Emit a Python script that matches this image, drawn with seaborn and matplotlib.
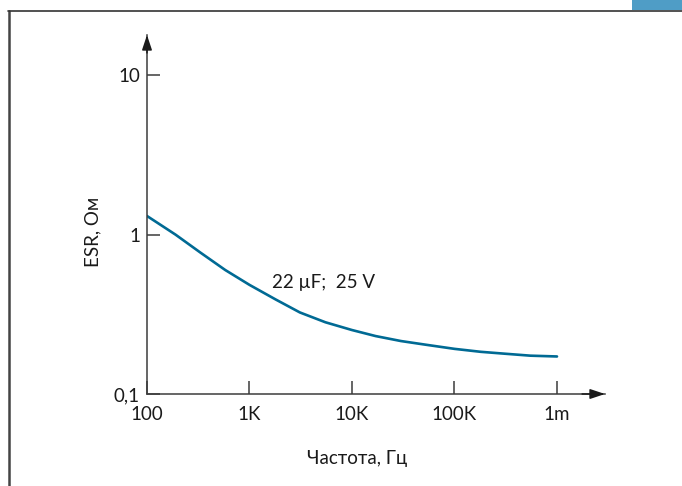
import numpy as np
import pandas as pd
import seaborn as sns
import matplotlib.pyplot as plt
from matplotlib.lines import Line2D
from matplotlib.patches import Rectangle

# Dados (ESR x frequência)
freq = [100, 190, 330, 580, 1000, 1800, 3100, 5500, 10000, 17000, 30000,
        52000, 100000, 180000, 310000, 550000, 1000000]
esr = [1.31, 1.00, 0.774, 0.600, 0.484, 0.392, 0.325, 0.282, 0.252, 0.231,
       0.215, 0.204, 0.192, 0.184, 0.179, 0.174, 0.172]
xticks = [100, 1e3, 1e4, 1e5, 1e6]
xlabels = ["100", "1K", "10K", "100K", "1m"]
yticks = [0.1, 1, 10]
ylabels = ["0,1", "1", "10"]

df = pd.DataFrame({"freq": freq, "esr": esr})

sns.set_style("white")
plt.rcParams["font.family"] = ["Lato", "DejaVu Sans"]

axis_col = "#3c3c3c"
txt_col = "#1a1a1a"
fig = plt.figure(figsize=(6.82, 4.86), dpi=100)
ax = fig.add_axes([147 / 682, 1 - 394 / 486, 458 / 682, 359 / 486])

sns.lineplot(data=df, x="freq", y="esr", ax=ax, color="#006a94", linewidth=1.9)

ax.set_xscale("log")
ax.set_yscale("log")
ax.set_xlim(100, 10 ** (6 + 48 / 102.5))
ax.set_ylim(0.1, 10 ** (1 + 40 / 158))

ax.set_xticks(xticks)
ax.set_xticklabels(xlabels)
ax.set_yticks(yticks)
ax.set_yticklabels(ylabels)
ax.minorticks_off()
ax.tick_params(axis="both", direction="in", length=9.5, width=1.1, color=axis_col,
               labelsize=13.5, labelcolor=txt_col, bottom=True, left=True)
ax.tick_params(axis="x", pad=9)
ax.tick_params(axis="y", pad=5)

for s in ["top", "right"]:
    ax.spines[s].set_visible(False)
for s in ["left", "bottom"]:
    ax.spines[s].set_color(axis_col)
    ax.spines[s].set_linewidth(1.1)

# setas nos eixos
ax.annotate("", xy=(1.0, 0), xycoords="axes fraction", xytext=(0.95, 0),
            arrowprops=dict(arrowstyle="-|>,head_length=0.9,head_width=0.3",
                            color=txt_col, lw=1.1, shrinkA=0, shrinkB=0))
ax.annotate("", xy=(0, 1.0), xycoords="axes fraction", xytext=(0, 0.95),
            arrowprops=dict(arrowstyle="-|>,head_length=0.9,head_width=0.3",
                            color=txt_col, lw=1.1, shrinkA=0, shrinkB=0))

ax.set_xlabel("Частота, Гц", fontsize=13.5, color=txt_col)
ax.set_ylabel("ESR, Ом", fontsize=13.5, color=txt_col)
ax.xaxis.set_label_coords((357 - 147) / 458, -(450 - 394) / 359)
ax.yaxis.set_label_coords(-(147 - 101) / 458, (394 - 232) / 359)

ax.text(1660, 0.5, "22 µF;  25 V", fontsize=13.5, color=txt_col,
        ha="left", va="center")

# moldura da página
fig.add_artist(Line2D([8.5 / 682, 8.5 / 682], [0, 1 - 11 / 486], color="#444444", lw=1.8))
fig.add_artist(Line2D([8 / 682, 1], [1 - 11 / 486, 1 - 11 / 486], color="#333333", lw=1.2))
fig.add_artist(Rectangle((632 / 682, 1 - 10 / 486), 50 / 682, 10 / 486,
                         transform=fig.transFigure, color="#4f9dc6", lw=0))

plt.savefig("out.png", dpi=100)
